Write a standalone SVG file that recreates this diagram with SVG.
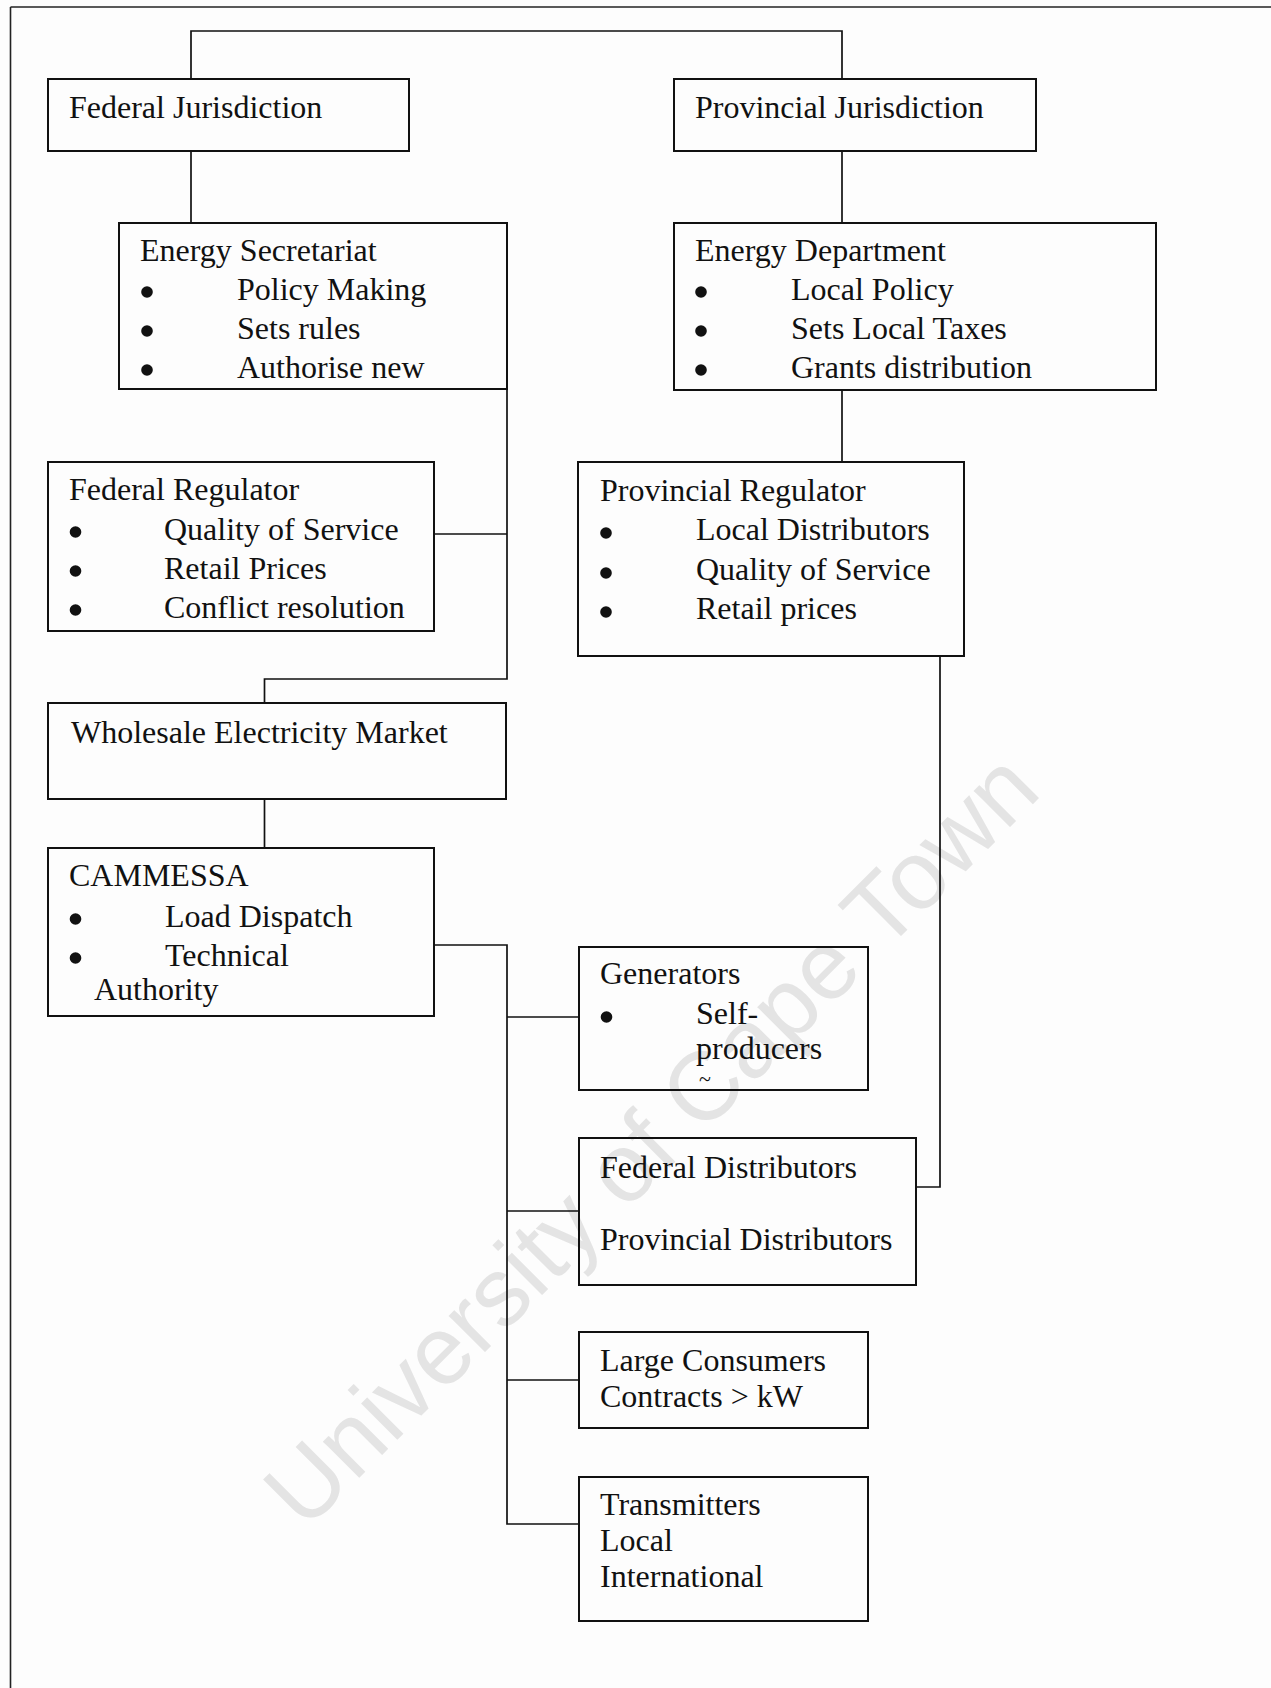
<svg xmlns="http://www.w3.org/2000/svg" width="1271" height="1688" viewBox="0 0 1271 1688">
<style>
  .box { fill: none; stroke: #111; stroke-width: 2; }
  .conn { fill: none; stroke: #111; stroke-width: 1.7; }
  .frame { fill: none; stroke: #222; stroke-width: 1.6; }
  .t { font-family: "Liberation Serif", "Times New Roman", serif; font-size: 32px; fill: #111; }
  .b { fill: #111; }
  .wm { font-family: "Liberation Sans", Arial, sans-serif; font-size: 97px; fill: #e4e4e4; }
</style>
<rect x="0" y="0" width="1271" height="1688" fill="#fdfdfd"/>
<text class="wm" transform="translate(305,1532) rotate(-45)">University of Cape Town</text>
<g id="frame">
  <line class="frame" x1="10.5" y1="7" x2="1271" y2="7"/>
  <line class="frame" x1="10.5" y1="7" x2="10.5" y2="1688"/>
</g>
<g id="connectors">
  <polyline class="conn" points="191,79 191,31 842,31 842,79"/>
  <line class="conn" x1="191" y1="151" x2="191" y2="223"/>
  <line class="conn" x1="842" y1="151" x2="842" y2="223"/>
  <line class="conn" x1="842" y1="390" x2="842" y2="462"/>
  <polyline class="conn" points="507,389 507,679 264.5,679 264.5,703"/>
  <line class="conn" x1="434" y1="534" x2="507" y2="534"/>
  <line class="conn" x1="264.5" y1="799" x2="264.5" y2="848"/>
  <polyline class="conn" points="434,945 507,945 507,1524 579,1524"/>
  <line class="conn" x1="507" y1="1017" x2="579" y2="1017"/>
  <line class="conn" x1="507" y1="1211" x2="579" y2="1211"/>
  <line class="conn" x1="507" y1="1380" x2="579" y2="1380"/>
  <polyline class="conn" points="916,1187 940,1187 940,656"/>
</g>
<g id="federal-jurisdiction">
  <rect class="box" x="48" y="79" width="361" height="72"/>
  <text class="t" x="69" y="118">Federal Jurisdiction</text>
</g>
<g id="provincial-jurisdiction">
  <rect class="box" x="674" y="79" width="362" height="72"/>
  <text class="t" x="695" y="118">Provincial Jurisdiction</text>
</g>
<g id="energy-secretariat">
  <rect class="box" x="119" y="223" width="388" height="166"/>
  <text class="t" x="140" y="261">Energy Secretariat</text>
  <circle class="b" cx="147" cy="292" r="5.8"/>
  <circle class="b" cx="147" cy="331" r="5.8"/>
  <circle class="b" cx="147" cy="370" r="5.8"/>
  <text class="t" x="237" y="300">Policy Making</text>
  <text class="t" x="237" y="339">Sets rules</text>
  <text class="t" x="237" y="378">Authorise new</text>
</g>
<g id="energy-department">
  <rect class="box" x="674" y="223" width="482" height="167"/>
  <text class="t" x="695" y="261">Energy Department</text>
  <circle class="b" cx="701" cy="292" r="5.8"/>
  <circle class="b" cx="701" cy="331" r="5.8"/>
  <circle class="b" cx="701" cy="370" r="5.8"/>
  <text class="t" x="791" y="300">Local Policy</text>
  <text class="t" x="791" y="339">Sets Local Taxes</text>
  <text class="t" x="791" y="378">Grants distribution</text>
</g>
<g id="federal-regulator">
  <rect class="box" x="48" y="462" width="386" height="169"/>
  <text class="t" x="69" y="500">Federal Regulator</text>
  <circle class="b" cx="75.5" cy="532" r="5.8"/>
  <circle class="b" cx="75.5" cy="571" r="5.8"/>
  <circle class="b" cx="75.5" cy="610" r="5.8"/>
  <text class="t" x="164" y="540">Quality of Service</text>
  <text class="t" x="164" y="579">Retail Prices</text>
  <text class="t" x="164" y="618">Conflict resolution</text>
</g>
<g id="provincial-regulator">
  <rect class="box" x="578" y="462" width="386" height="194"/>
  <text class="t" x="600" y="501">Provincial Regulator</text>
  <circle class="b" cx="606" cy="533" r="5.8"/>
  <circle class="b" cx="606" cy="573" r="5.8"/>
  <circle class="b" cx="606" cy="612" r="5.8"/>
  <text class="t" x="696" y="540">Local Distributors</text>
  <text class="t" x="696" y="580">Quality of Service</text>
  <text class="t" x="696" y="619">Retail prices</text>
</g>
<g id="wholesale-electricity-market">
  <rect class="box" x="48" y="703" width="458" height="96"/>
  <text class="t" x="71" y="743">Wholesale Electricity Market</text>
</g>
<g id="cammessa">
  <rect class="box" x="48" y="848" width="386" height="168"/>
  <text class="t" x="69" y="886">CAMMESSA</text>
  <circle class="b" cx="75.5" cy="919" r="5.8"/>
  <circle class="b" cx="75.5" cy="958" r="5.8"/>
  <text class="t" x="165" y="927">Load Dispatch</text>
  <text class="t" x="165" y="966">Technical</text>
  <text class="t" x="94" y="1000">Authority</text>
</g>
<g id="generators">
  <rect class="box" x="579" y="947" width="289" height="143"/>
  <text class="t" x="600" y="984">Generators</text>
  <circle class="b" cx="606.5" cy="1017" r="5.8"/>
  <text class="t" x="696" y="1024">Self-</text>
  <text class="t" x="696" y="1059">producers</text>
  <text class="t" x="699" y="1086" style="font-size:22px">~</text>
</g>
<g id="distributors">
  <rect class="box" x="579" y="1138" width="337" height="147"/>
  <text class="t" x="600" y="1178">Federal Distributors</text>
  <text class="t" x="600" y="1250">Provincial Distributors</text>
</g>
<g id="large-consumers">
  <rect class="box" x="579" y="1332" width="289" height="96"/>
  <text class="t" x="600" y="1371">Large Consumers</text>
  <text class="t" x="600" y="1407">Contracts &gt; kW</text>
</g>
<g id="transmitters">
  <rect class="box" x="579" y="1477" width="289" height="144"/>
  <text class="t" x="600" y="1515">Transmitters</text>
  <text class="t" x="600" y="1551">Local</text>
  <text class="t" x="600" y="1587">International</text>
</g>
</svg>
